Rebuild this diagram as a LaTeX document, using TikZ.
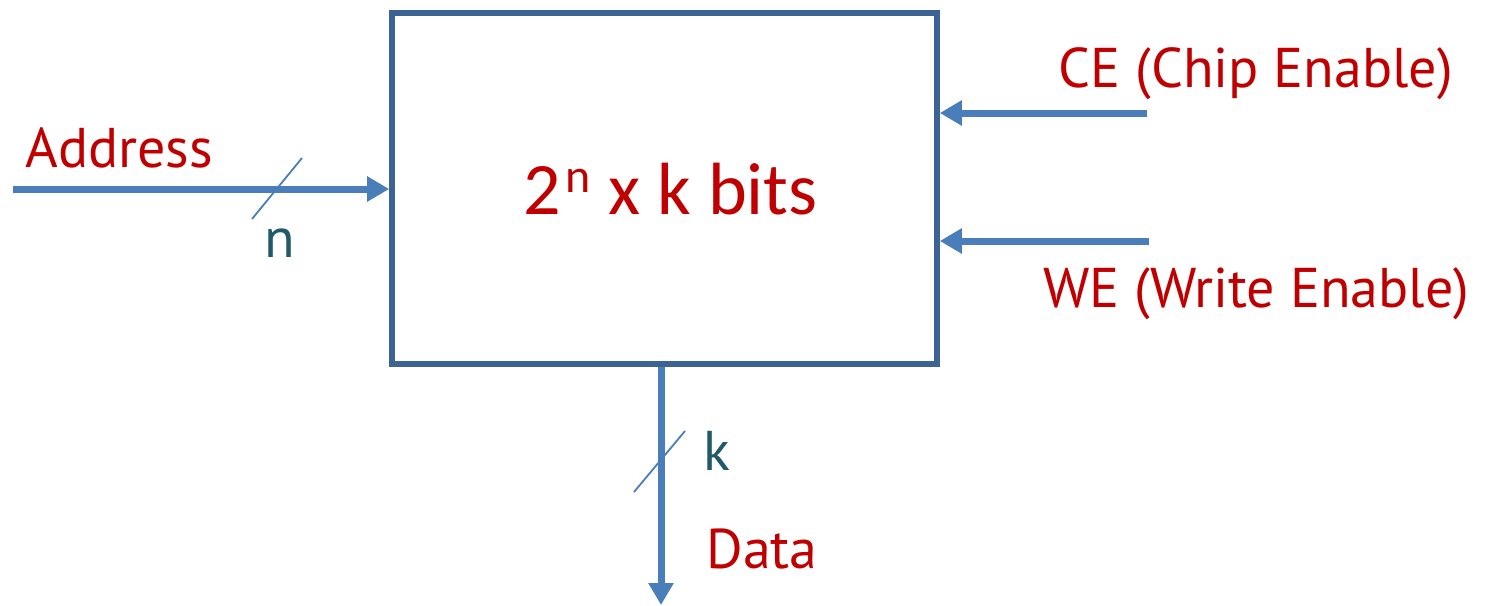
\documentclass[tikz,border=0pt]{standalone}
\usepackage{fontspec}
\setmainfont{PT Sans}
\newfontfamily\calfont{Carlito}
\usetikzlibrary{arrows.meta}
\definecolor{labelred}{HTML}{C00000}
\definecolor{busteal}{HTML}{215968}
\definecolor{boxblue}{HTML}{3C6394}
\definecolor{wireblue}{HTML}{4A7EBB}
\tikzset{
  wire/.style={draw=wireblue, line width=3.5pt, -{Triangle[length=11pt,width=12pt]}},
  busmark/.style={draw=wireblue, line width=0.9pt},
  sig/.style={text=labelred, inner sep=0pt, font=\fontsize{28}{31}\selectfont},
  width/.style={text=busteal, inner sep=0pt, font=\fontsize{28}{31}\selectfont},
}
\begin{document}
\begin{tikzpicture}[x=0.5pt, y=-0.5pt]
  \useasboundingbox (0,0) rectangle (1493,605);

  % memory block
  \node[draw=boxblue, line width=2.8pt, minimum width=272.5pt, minimum height=175.5pt,
        inner sep=0pt] (mem) at (664.5,188.5) {};
  \node[text=labelred, inner sep=0pt, anchor=base west,
        font=\calfont\fontsize{37}{40}\selectfont] (size) at (523,214)
        {2\kern2.5pt\raisebox{11pt}{\fontsize{24}{26}\selectfont n}\kern0.5pt{} x k bits};

  % address bus
  \coordinate (addr) at (13,189);
  \draw[wire] (addr) -- (addr -| mem.west);
  \coordinate (ns1) at (252,219);
  \coordinate (ns2) at (302,158);
  \draw[busmark] (ns1) -- (ns2);
  \node[sig, anchor=base west] (addrlbl) at (25,167) {Address};
  \node[width, anchor=base] (nlbl) at (280,257) {n};

  % control inputs
  \coordinate (ce) at (1147,113);
  \coordinate (we) at (1149,241);
  \draw[wire] (ce) -- (ce -| mem.east);
  \draw[wire] (we) -- (we -| mem.east);
  \node[sig, anchor=base west] (celbl) at (1058,87) {CE (Chip Enable)};
  \node[sig, anchor=base west] (welbl) at (1043,307) {WE (Write Enable)};

  % data bus
  \coordinate (data) at (661,605);
  \draw[wire] (data |- mem.south) -- (data);
  \coordinate (ks1) at (634,492);
  \coordinate (ks2) at (685,431);
  \draw[busmark] (ks1) -- (ks2);
  \node[width, anchor=base west] (klbl) at (703,470) {k};
  \node[sig, anchor=base west] (datalbl) at (706,568) {Data};
\end{tikzpicture}
\end{document}
